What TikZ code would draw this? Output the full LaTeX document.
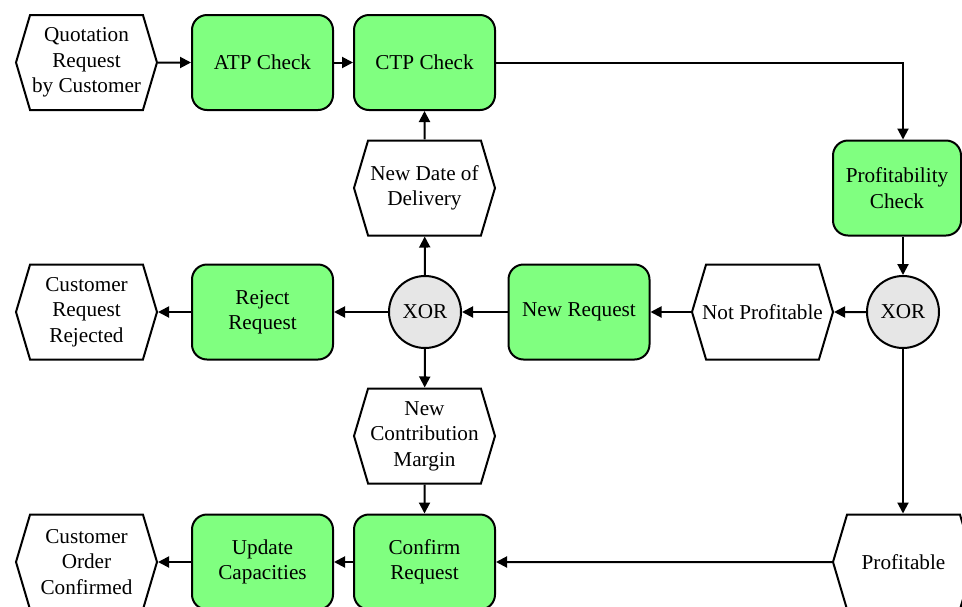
\documentclass[tikz,border=0pt]{standalone}
\usepackage{fontspec}
\setmainfont{Liberation Serif}
\usetikzlibrary{arrows.meta,shapes.symbols}
\definecolor{fngreen}{HTML}{80FF80}
\definecolor{xorgray}{HTML}{E6E6E6}
\begin{document}
\begin{tikzpicture}
  [
  x=1pt,y=-1pt,
  font=\fontsize{21.2}{25.5}\selectfont,
  event/.style={signal,signal to=west and east,signal pointer angle=147,draw,fill=white,line width=2pt,
    minimum width=141pt,minimum height=95pt,inner xsep=-10pt,inner ysep=0pt,align=center},
  function/.style={rectangle,rounded corners=15pt,draw,fill=fngreen,line width=2pt,
    minimum width=141pt,minimum height=95pt,inner sep=0pt,align=center},
  xor/.style={circle,draw,fill=xorgray,line width=2pt,minimum size=72pt,inner sep=0pt},
  arrow/.style={-{Triangle[length=11pt,width=11pt]},line width=2pt}
  ]
  \path[use as bounding box,clip] (0,0) rectangle (962,606);

  % top row
  \node (qr) at (86.5,62.5) [event] {Quotation\\Request\\by Customer};
  \node (atp) at (262.5,62.5) [function] {ATP Check};
  \node (ctp) at (424.5,62.5) [function] {CTP Check};

  % right column
  \node (pc) at (897,188) [function,minimum width=128pt] {Profitability\\Check};
  \node (xr) at (903,312) [xor] {XOR};
  \node (pr) at (903.5,562) [event] {Profitable};

  % middle row
  \node (np) at (762.5,312) [event] {Not Profitable};
  \node (nr) at (579,312) [function] {New Request};
  \node (xl) at (425,312) [xor] {XOR};
  \node (rr) at (262.5,312) [function] {Reject\\Request};
  \node (crr) at (86.5,312) [event] {Customer\\Request\\Rejected};

  % middle column
  \node (nd) at (424.5,188) [event] {New Date of\\Delivery};
  \node (ncm) at (424.5,436) [event] {New\\Contribution\\Margin};

  % bottom row
  \node (cr) at (424.5,562) [function] {Confirm\\Request};
  \node (uc) at (262.5,562) [function] {Update\\Capacities};
  \node (coc) at (86.5,562) [event] {Customer\\Order\\Confirmed};

  \draw [arrow] (qr) to (atp);
  \draw [arrow] (atp) to (ctp);
  \draw [arrow] (ctp) -| (xr |- pc.north);
  \draw [arrow] (pc.south -| xr) to (xr);
  \draw [arrow] (xr) to (np);
  \draw [arrow] (np) to (nr);
  \draw [arrow] (nr) to (xl);
  \draw [arrow] (xl) to (rr);
  \draw [arrow] (rr) to (crr);
  \draw [arrow] (xl) to (nd);
  \draw [arrow] (nd) to (ctp);
  \draw [arrow] (xl) to (ncm);
  \draw [arrow] (ncm) to (cr);
  \draw [arrow] (xr) to (xr |- pr.north);
  \draw [arrow] (pr) to (cr);
  \draw [arrow] (cr) to (uc);
  \draw [arrow] (uc) to (coc);
\end{tikzpicture}
\end{document}
